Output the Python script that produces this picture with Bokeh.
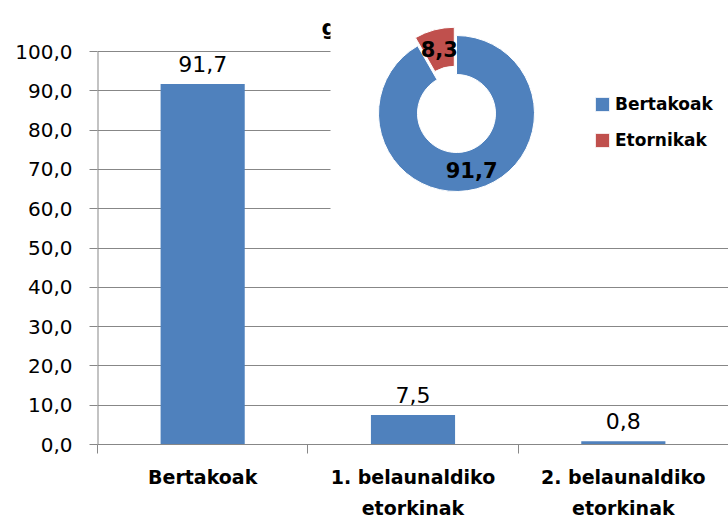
import math
from bokeh.plotting import figure
from bokeh.models import Range1d, FixedTicker, Legend, LegendItem
from bokeh.core.properties import value
from bokeh.embed import file_html
from bokeh.resources import INLINE

# ---------------- data ----------------
categories = ["Bertakoak", "1. belaunaldiko\netorkinak", "2. belaunaldiko\netorkinak"]
bar_values = [91.7, 7.5, 0.8]
y_ticks = [0, 10, 20, 30, 40, 50, 60, 70, 80, 90, 100]
donut_names = ["Bertakoak", "Etornikak"]
donut_values = [91.7, 8.3]
title_fragment = "g"

# ---------------- style / layout ----------------
BLUE = "#4F81BD"
RED = "#C0504D"
GRID = "#878787"
FONT = "DejaVu Sans"

W, H = 728, 521
FL = 97          # left border (frame left)
FB = 77          # bottom border
FW = W - FL      # frame width
FH = H - FB      # frame height
Y100_PX = 51     # pixel row of the top tick
n = len(categories)
ppu_y = (FH - Y100_PX) / (y_ticks[-1] - y_ticks[0])
ppu_x = FW / n
y_end = FH / ppu_y


def xd(px):
    return (px - FL) / ppu_x


def yd(py):
    return (FH - py) / ppu_y


def fmt(v):
    return f"{v:.1f}".replace(".", ",")


p = figure(width=W, height=H, x_range=Range1d(0, n), y_range=Range1d(0, y_end),
           output_backend="svg", toolbar_location=None,
           min_border_left=FL, min_border_right=0, min_border_top=0,
           min_border_bottom=FB)
p.outline_line_color = None
p.background_fill_color = "white"

centers = [i + 0.5 for i in range(n)]

# y axis
p.yaxis.ticker = FixedTicker(ticks=y_ticks, minor_ticks=[])
p.yaxis.major_label_overrides = {t: fmt(t) for t in y_ticks}
p.yaxis.axis_line_color = None
p.yaxis.major_tick_line_color = GRID
p.yaxis.major_tick_out = 8
p.yaxis.major_tick_in = 0
p.yaxis.minor_tick_line_color = None
p.yaxis.major_label_text_font = FONT
p.yaxis.major_label_text_font_size = "20px"
p.yaxis.major_label_text_color = "black"
p.yaxis.major_label_standoff = 17

# x axis
p.xaxis.ticker = FixedTicker(ticks=centers, minor_ticks=list(range(n + 1)))
p.xaxis.major_label_overrides = {c: lab for c, lab in zip(centers, categories)}
p.xaxis.axis_line_color = GRID
p.xaxis.axis_line_width = 1
p.xaxis.major_tick_line_color = None
p.xaxis.major_tick_out = 0
p.xaxis.major_tick_in = 0
p.xaxis.minor_tick_line_color = GRID
p.xaxis.minor_tick_out = 9
p.xaxis.minor_tick_in = 0
p.xaxis.major_label_text_font = FONT
p.xaxis.major_label_text_font_style = "bold"
p.xaxis.major_label_text_font_size = "19px"
p.xaxis.major_label_text_color = "black"
p.xaxis.major_label_text_line_height = 1.41
p.xaxis.major_label_standoff = 12

p.xgrid.visible = False
p.ygrid.ticker = FixedTicker(ticks=y_ticks, minor_ticks=[])
p.ygrid.grid_line_color = GRID
p.ygrid.grid_line_width = 1

# y axis line only up to the last tick
p.segment(x0=[0], y0=[y_ticks[0]], x1=[0], y1=[y_ticks[-1]], line_color=GRID, line_width=2)

# bars
p.vbar(x=centers, top=bar_values, width=0.4, fill_color=BLUE, line_color=None)
p.text(x=centers, y=bar_values, text=[fmt(v) for v in bar_values],
       text_align="center", text_baseline="alphabetic", y_offset=-20,
       text_font=value(FONT), text_font_size="22px", text_color="black")

# partially hidden title
p.text(x=[xd(321)], y=[yd(27)], text=[title_fragment], text_align="left",
       text_baseline="alphabetic", text_font=value(FONT), text_font_style="bold",
       text_font_size="22px", text_color="black")

# white inset area
p.quad(left=[xd(330)], right=[n], bottom=[yd(244)], top=[y_end],
       fill_color="white", line_color=None)

# donut
cx_px, cy_px = 456, 113
R_OUT, R_IN = 78, 39
EXPLODE = [0, 8.5]
colors = [BLUE, RED]
total = sum(donut_values)
cum = 0.0
wedges = []
for i, v in enumerate(donut_values):
    c0, c1 = cum, cum + v
    cum = c1
    start = 90 - 360 * c1 / total
    end = 90 - 360 * c0 / total
    mid = math.radians((start + end) / 2)
    ox = EXPLODE[i] * math.cos(mid)
    oy = EXPLODE[i] * math.sin(mid)
    r = p.annular_wedge(x=[xd(cx_px + ox)], y=[yd(cy_px - oy)],
                        inner_radius=R_IN, outer_radius=R_OUT,
                        inner_radius_units="screen", outer_radius_units="screen",
                        start_angle=math.radians(start), end_angle=math.radians(end),
                        direction="anticlock", fill_color=colors[i],
                        line_color="white", line_width=1)
    wedges.append(r)
    rl = (R_IN + R_OUT) / 2 + EXPLODE[i]
    lx = cx_px + rl * math.cos(mid)
    ly = cy_px - rl * math.sin(mid)
    p.text(x=[xd(lx)], y=[yd(ly)], text=[fmt(v)], text_align="center",
           text_baseline="middle", text_font=value(FONT), text_font_style="bold",
           text_font_size="21px", text_color="black")

legend = Legend(items=[LegendItem(label=nm, renderers=[w]) for nm, w in zip(donut_names, wedges)],
                location=(593 - FL, FH - 150), orientation="vertical",
                border_line_color=None, background_fill_alpha=0,
                padding=0, margin=0, spacing=16,
                glyph_width=18, glyph_height=18, label_height=18, label_standoff=4,
                label_text_font=FONT, label_text_font_style="bold",
                label_text_font_size="17px", label_text_color="black")
p.add_layout(legend)

open("out.html", "w").write(file_html(p, INLINE))
